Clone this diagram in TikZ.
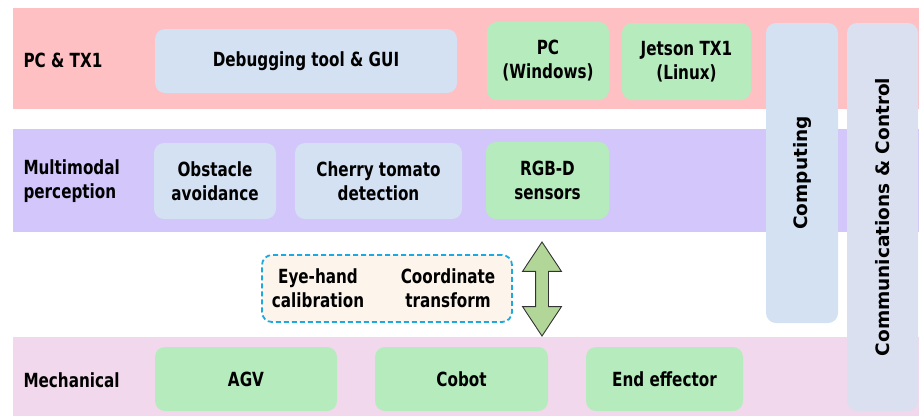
\documentclass[tikz,border=0pt]{standalone}
\usepackage{fontspec}
\setmainfont{DejaVu Sans}[FakeStretch=0.78]
\newfontfamily\widefont{DejaVu Sans}
\usetikzlibrary{shapes.arrows}
\definecolor{bandred}{RGB}{255,192,196}
\definecolor{bandpurple}{RGB}{210,198,250}
\definecolor{bandpink}{RGB}{242,216,236}
\definecolor{boxblue}{RGB}{211,225,243}
\definecolor{boxgreen}{RGB}{182,235,190}
\definecolor{boxgrey}{RGB}{219,224,240}
\definecolor{calibcream}{RGB}{253,245,236}
\definecolor{calibcyan}{RGB}{26,169,225}
\definecolor{linkgreen}{RGB}{178,214,152}
\begin{document}
\begin{tikzpicture}[x=1pt,y=-1pt,
	font=\bfseries\fontsize{19.5}{24}\selectfont,
	band/.style={inner sep=0pt,minimum width=906pt},
	box/.style={rounded corners=10pt,inner sep=0pt,align=center},
	bluebox/.style={box,fill=boxblue},
	greenbox/.style={box,fill=boxgreen},
	tallbox/.style={box,rotate=90,font=\widefont\bfseries\fontsize{18.5}{22}\selectfont}]
		\useasboundingbox (0,0) rectangle (919,416);
		\node[band,fill=bandred,minimum height=101pt] (pcband) at (466,58.5) {};
		\node[band,fill=bandpurple,minimum height=103pt] (perband) at (466,180.5) {};
		\node[band,fill=bandpink,minimum height=79pt] (mecband) at (466,376.5) {};
		\node[anchor=west] (pclabel) at (20,60) {PC \& TX1};
		\node[anchor=west,align=left] (perlabel) at (20,181) {Multimodal\\perception};
		\node[anchor=west] (meclabel) at (20,380) {Mechanical};
		\node[bluebox,minimum width=302pt,minimum height=64pt] (debug) at (306,61) {Debugging tool \& GUI};
		\node[greenbox,minimum width=122pt,minimum height=78pt] (pc) at (548,61) {PC\\(Windows)};
		\node[greenbox,minimum width=129pt,minimum height=77pt] (tx1) at (686.5,61.5) {Jetson TX1\\(Linux)};
		\node[bluebox,minimum width=122pt,minimum height=76pt] (obstacle) at (215,181) {Obstacle\\avoidance};
		\node[bluebox,minimum width=167pt,minimum height=76pt] (cherry) at (378.5,181) {Cherry tomato\\detection};
		\node[greenbox,minimum width=123pt,minimum height=77pt] (rgbd) at (547.5,180.5) {RGB-D\\sensors};
		\node[tallbox,fill=boxblue,minimum width=300pt,minimum height=72pt] (computing) at (802,173) {Computing};
		\node[tallbox,fill=boxgrey,minimum width=388pt,minimum height=71pt] (comm) at (882.5,217) {Communications \& Control};
		\node[box,draw=calibcyan,fill=calibcream,line width=1.8pt,dash pattern=on 5pt off 3pt,minimum width=250pt,minimum height=67pt] (calib) at (387,288.5) {};
		\node[align=center] (eyehand) at (318,288) {Eye-hand\\calibration};
		\node[align=center] (coord) at (448,288) {Coordinate\\transform};
		\node[double arrow,rotate=90,fill=linkgreen,draw=black!80,line width=0.9pt,inner sep=6pt,minimum height=94pt,double arrow head extend=13pt,double arrow tip angle=67] (link) at (542,289) {};
		\node[greenbox,minimum width=182pt,minimum height=64pt] (agv) at (246,379) {AGV};
		\node[greenbox,minimum width=173pt,minimum height=64pt] (cobot) at (461.5,379) {Cobot};
		\node[greenbox,minimum width=157pt,minimum height=64pt] (effector) at (664.5,379) {End effector};
	\end{tikzpicture}
\end{document}
